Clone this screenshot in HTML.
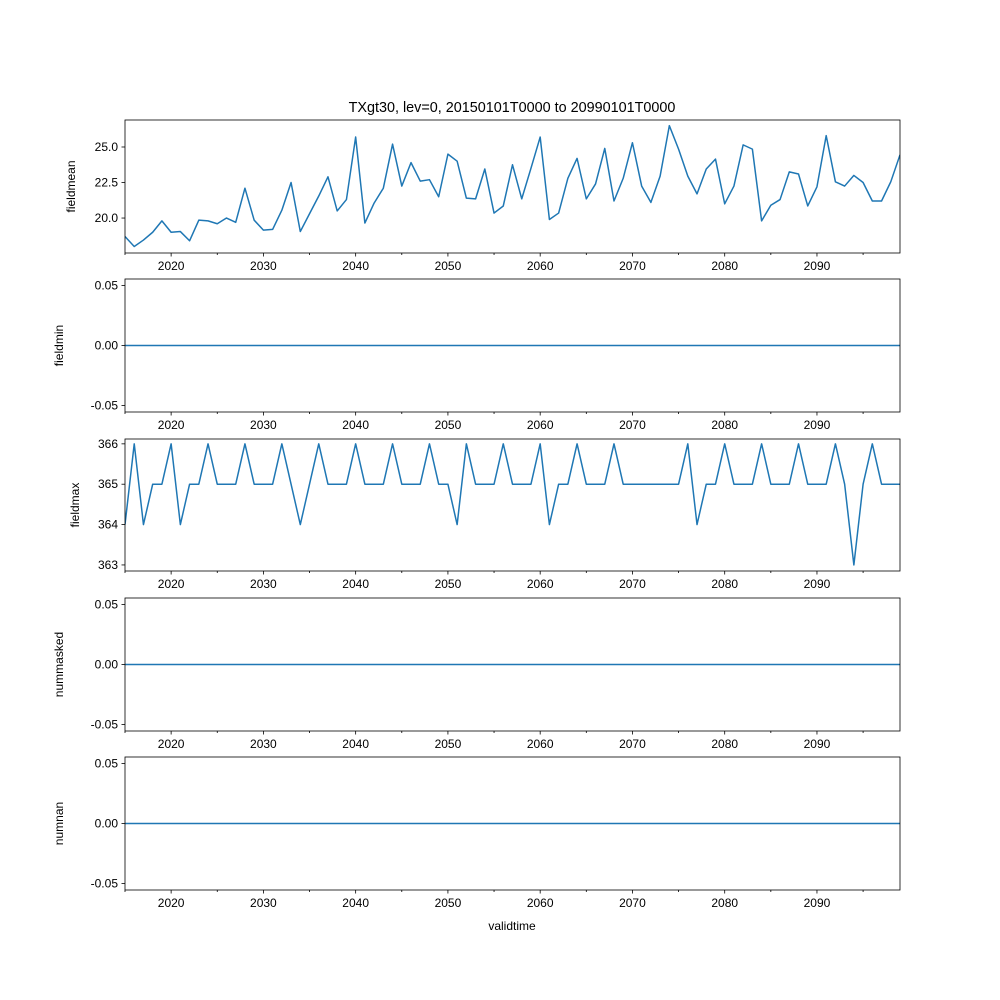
<!DOCTYPE html>
<html><head><meta charset="utf-8"><style>body{margin:0;background:#fff}svg{display:block;font-family:"Liberation Sans","DejaVu Sans",sans-serif}</style></head>
<body>
<svg id="c" width="1000" height="1000"></svg>
<script>
const years=[];for(let y=2015;y<=2099;y++)years.push(y);
const fieldmean=[18.7,18.0,18.45,19.0,19.8,19.0,19.05,18.4,19.85,19.8,19.6,20.0,19.7,22.1,19.85,19.15,19.2,20.55,22.5,19.05,20.3,21.55,22.9,20.5,21.3,25.7,19.65,21.05,22.1,25.2,22.25,23.9,22.6,22.7,21.5,24.5,24.0,21.4,21.35,23.45,20.35,20.85,23.75,21.35,23.5,25.7,19.9,20.35,22.8,24.2,21.35,22.4,24.9,21.2,22.8,25.3,22.25,21.1,22.95,26.5,24.85,22.95,21.7,23.45,24.15,21.0,22.25,25.15,24.85,19.8,20.9,21.3,23.25,23.1,20.85,22.2,25.8,22.55,22.25,23.0,22.5,21.2,21.2,22.55,24.45];
const fieldmin=years.map(()=>0);
const fieldmax=[364,366,364,365,365,366,364,365,365,366,365,365,365,366,365,365,365,366,365,364,365,366,365,365,365,366,365,365,365,366,365,365,365,366,365,365,364,366,365,365,365,366,365,365,365,366,364,365,365,366,365,365,365,366,365,365,365,365,365,365,365,366,364,365,365,366,365,365,365,366,365,365,365,366,365,365,365,366,365,363,365,366,365,365,365];
const nummasked=years.map(()=>0);
const numnan=years.map(()=>0);
const xTicks=[2020,2030,2040,2050,2060,2070,2080,2090];
const meanTicks=[20.0,22.5,25.0];
const maxTicks=[363,364,365,366];
const zeroTicks=[-0.05,0,0.05];

const svg=document.getElementById('c');const NS='http://www.w3.org/2000/svg';
function el(t,a,p){const e=document.createElementNS(NS,t);for(const k in a)e.setAttribute(k,a[k]);(p||svg).appendChild(e);return e;}
const X0=125,X1=900;
const xs=v=>X0+(v-2015)/(2099-2015)*(X1-X0);
const panels=[
 {name:'fieldmean',data:fieldmean,top:120,bot:253,lo:17.54,hi:26.9,ticks:meanTicks,fmt:v=>v.toFixed(1)},
 {name:'fieldmin',data:fieldmin,top:279,bot:412,lo:-0.0554,hi:0.0554,ticks:zeroTicks,fmt:v=>v.toFixed(2)},
 {name:'fieldmax',data:fieldmax,top:439,bot:571,lo:362.85,hi:366.12,ticks:maxTicks,fmt:v=>String(v)},
 {name:'nummasked',data:nummasked,top:598,bot:731,lo:-0.0554,hi:0.0554,ticks:zeroTicks,fmt:v=>v.toFixed(2)},
 {name:'numnan',data:numnan,top:757,bot:890,lo:-0.0554,hi:0.0554,ticks:zeroTicks,fmt:v=>v.toFixed(2)}
];
panels.forEach(p=>{
 const g=el('g',{});
 
 
 const ys=v=>p.bot-(v-p.lo)/(p.hi-p.lo)*(p.bot-p.top);
 const d=p.data.map((v,i)=>(i?'L':'M')+xs(years[i]).toFixed(2)+','+ys(v).toFixed(2)).join('');
 const cp=el('clipPath',{id:'cl'+p.name},g);el('rect',{x:X0,y:p.top,width:X1-X0,height:p.bot-p.top},cp);
 const ln=el('path',{d:d,fill:'none',stroke:'#1f77b4','stroke-width':1.5,'stroke-linejoin':'round','clip-path':'url(#cl'+p.name+')'},g);
 
 
 const fr=el('rect',{x:X0,y:p.top,width:X1-X0,height:p.bot-p.top,fill:'none',stroke:'#000','stroke-width':0.8},g);
 
 
 for(let y=2015;y<=2099;y+=5){
  const major=y%10===0;const x=xs(y);
  el('line',{x1:x,x2:x,y1:p.bot,y2:p.bot+(major?3.5:2),stroke:'#000','stroke-width':0.8},g);
 }
 xTicks.forEach(y=>{const t=el('text',{x:xs(y),y:p.bot+17,'font-size':12,'text-anchor':'middle'},g);t.textContent=y;
  
  });
 p.ticks.forEach(v=>{const y=ys(v);el('line',{x1:X0-3.5,x2:X0,y1:y,y2:y,stroke:'#000','stroke-width':0.8},g);
  const t=el('text',{x:X0-7,y:y+4,'font-size':12,'text-anchor':'end'},g);t.textContent=p.fmt(v);
  
  });
 const lx=p.name==='fieldmean'?75:(p.name==='fieldmax'?79:63);
 const yl=el('text',{x:lx,y:(p.top+p.bot)/2,'font-size':12,'text-anchor':'middle',transform:'rotate(-90 '+lx+' '+(p.top+p.bot)/2+')'},g);
 yl.textContent=p.name;
 
 
});
const ti=el('text',{x:512,y:112,'font-size':14.4,'text-anchor':'middle'});ti.textContent='TXgt30, lev=0, 20150101T0000 to 20990101T0000';


const xl=el('text',{x:512,y:930,'font-size':12,'text-anchor':'middle'});xl.textContent='validtime';


</script>
</body></html>
